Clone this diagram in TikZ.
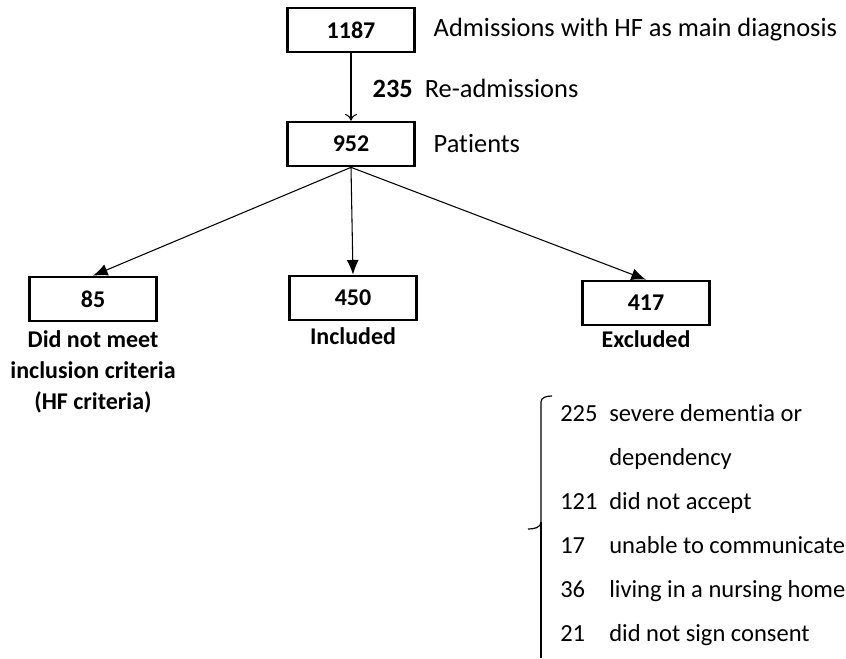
\documentclass[tikz,border=0pt]{standalone}
\usepackage{fontspec}
\setmainfont[Ligatures=NoCommon]{Carlito}
\usetikzlibrary{positioning,arrows.meta}

\begin{document}
\begin{tikzpicture}[
        x=0.75pt, y=-0.75pt,
        % cajas con los recuentos
        countbox/.style={rectangle, draw, line width=2pt, minimum width=95pt, minimum height=33pt, font=\bfseries\fontsize{18}{22}\selectfont},
        sidetext/.style={anchor=west, font=\fontsize{19.8}{23}\selectfont},
        undertext/.style={align=center, font=\bfseries\fontsize{18}{23}\selectfont},
        listnum/.style={anchor=base west, inner sep=0pt, font=\fontsize{18.4}{22}\selectfont},
        flow/.style={-{Latex[length=11pt,width=9pt]}, line width=0.8pt}
    ]
        \useasboundingbox (0,0) rectangle (846,658);

        \node [countbox] (n1187) at (351,30) {1187};
        \node [countbox] (n952) at (351,144) {952};
        \node [countbox] (n85) at (93,299) {85};
        \node [countbox] (n450) at (353,298) {450};
        \node [countbox] (n417) at (646,303) {417};

        \node [sidetext, right=10pt of n1187] (admis) {Admissions with HF as main diagnosis};
        \node [sidetext, right=10pt of n952] (pats) {Patients};
        \node [sidetext] (readm) at (368,88) {\textbf{235}\ \ Re-admissions};

        \node [undertext, below=3pt of n85] (notmeet) {Did not meet\\inclusion criteria\\(HF criteria)};
        \node [undertext, below=1pt of n450] (incl) {Included};
        \node [undertext, below=0pt of n417] (excl) {Excluded};

        \draw[-{To[length=5pt,width=9pt]}, line width=0.8pt] (n1187) -- (n952);
        \draw[flow] (n952.south) -- (n85.north);
        \draw[flow] (n952.south) -- (n450.north);
        \draw[flow] (n952.south) -- (n417.north);

        % llave de los excluidos
        \draw[line width=0.9pt] (552,396) to[out=180,in=90] (541,402) -- (541,522)
            to[out=270,in=0] (528,529);
        \draw[line width=0.9pt] (541,522) to[out=270,in=90] (541,536) -- (541,658);

        \node [listnum] (c225) at (560,421) {225};
        \node [listnum] (t225) at (609,421) {severe dementia or};
        \node [listnum] (tdep) at (609,465) {dependency};
        \node [listnum] (c121) at (560,509) {121};
        \node [listnum] (t121) at (609,509) {did not accept};
        \node [listnum] (c17) at (560,553) {17};
        \node [listnum] (t17) at (609,553) {unable to communicate};
        \node [listnum] (c36) at (560,597) {36};
        \node [listnum] (t36) at (609,597) {living in a nursing home};
        \node [listnum] (c21) at (560,641) {21};
        \node [listnum] (t21) at (609,641) {did not sign consent};
    \end{tikzpicture}
\end{document}
